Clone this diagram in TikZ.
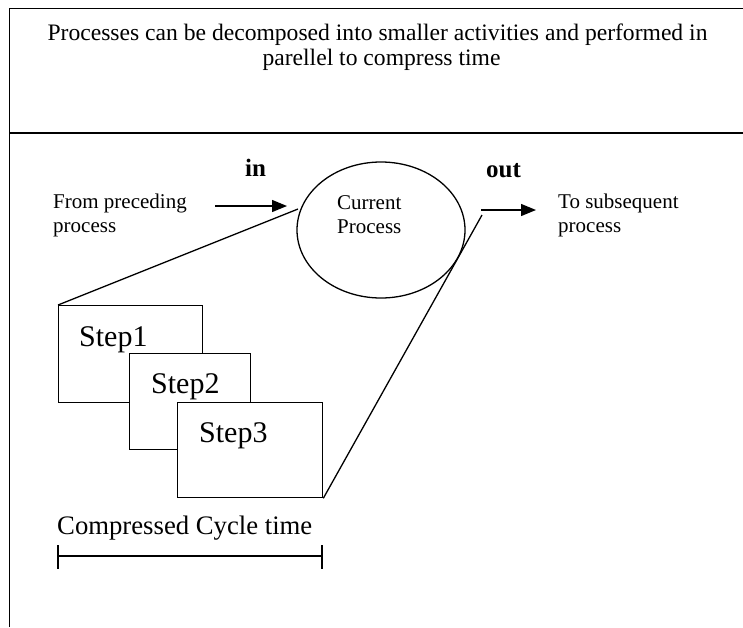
\documentclass[tikz,border=0pt]{standalone}
\usepackage{fontspec}
\setmainfont{Liberation Serif}
\usetikzlibrary{arrows.meta,shapes.geometric,calc}
\begin{document}
\begin{tikzpicture}[x=1pt,y=-1pt,
  frame/.style={line width=1.6pt},
  ln/.style={line width=1.3pt},
  txt/.style={inner sep=0pt, anchor=base west, font=\fontsize{21}{24}\selectfont},
  titletxt/.style={inner sep=0pt, anchor=base, font=\fontsize{23.6}{27}\selectfont},
  boldtxt/.style={inner sep=0pt, anchor=base west, font=\fontsize{25}{28}\selectfont\bfseries},
  steptxt/.style={inner sep=0pt, anchor=base west, font=\fontsize{30}{34}\selectfont},
  bigtxt/.style={inner sep=0pt, anchor=base west, font=\fontsize{26.7}{30}\selectfont},
  stepbox/.style={draw, line width=1.3pt, fill=white, anchor=north west, inner sep=0pt},
  arr/.style={ln, -{Triangle[length=15pt,width=12pt]}}]
\useasboundingbox (0,0) rectangle (743,627);
% frame
\draw[frame] (9.5,627) -- (9.5,8.5) -- (743,8.5);
\draw[frame] (9.5,133) -- (743,133);
% title
\node[titletxt] (t1) at (377.5,40.5) {Processes can be decomposed into smaller activities and performed in};
\node[titletxt] (t2) at (381.5,65) {parellel to compress time};
% in / out labels
\node[boldtxt] (inlbl) at (245,176) {in};
\node[boldtxt] (outlbl) at (486,177) {out};
% from / to texts
\node[txt] (from1) at (53,208) {From preceding};
\node[txt] (from2) at (53,232) {process};
\node[txt] (to1) at (558,208) {To subsequent};
\node[txt] (to2) at (558,232) {process};
% current process ellipse
\node[ellipse, draw, line width=1.3pt, minimum width=168pt, minimum height=136pt, inner sep=0pt] (cur) at (381,230) {};
\node[txt] (cur1) at (337,209.5) {Current};
\node[txt] (cur2) at (337,233) {Process};
% arrows
\coordinate (inA) at (215,206);
\coordinate (inB) at (287,206);
\coordinate (outA) at (481,210);
\coordinate (outB) at (536,210);
\draw[arr] (inA) -- (inB);
\draw[arr] (outA) -- (outB);
% steps
\node[stepbox, minimum width=144pt, minimum height=97pt] (b1) at (58,305) {};
\node[steptxt] (s1) at (79,346) {Step1};
\node[stepbox, minimum width=121pt, minimum height=96pt] (b2) at (129,353) {};
\node[steptxt] (s2) at (151,393) {Step2};
\node[stepbox, minimum width=145pt, minimum height=95pt] (b3) at (177,402) {};
\node[steptxt] (s3) at (199,442) {Step3};
% zoom lines
\coordinate (zl) at (298,209);
\coordinate (zr) at (482,215);
\draw[ln] (b1.north west) -- (zl);
\draw[ln] (b3.south east) -- (zr);
% compressed cycle time
\node[bigtxt] (cct) at (57,534) {Compressed Cycle time};
\coordinate (ba) at (58,556);
\coordinate (bb) at (322,556);
\draw[ln] (ba) -- (bb);
\draw[ln] ($(ba)+(0,-11)$) -- ($(ba)+(0,13)$);
\draw[ln] ($(bb)+(0,-11)$) -- ($(bb)+(0,13)$);
\end{tikzpicture}
\end{document}
